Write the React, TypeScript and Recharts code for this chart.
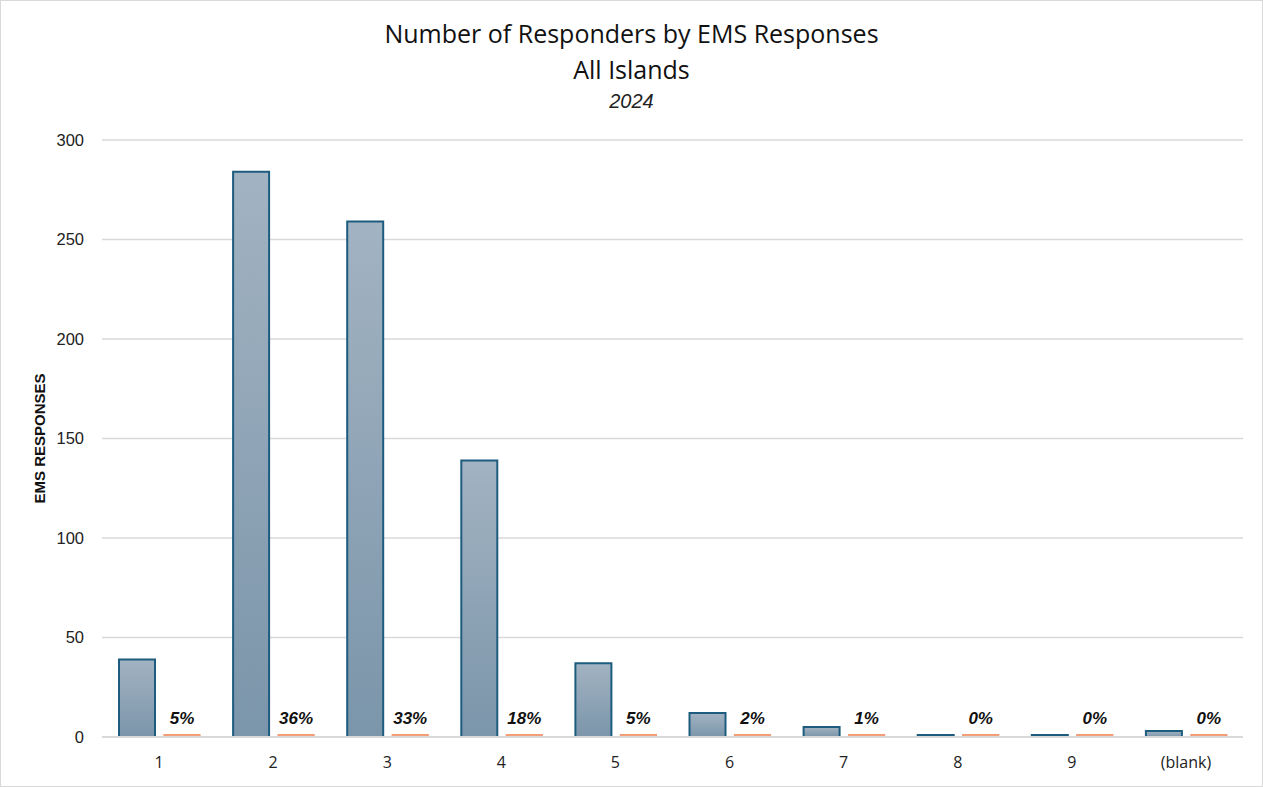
import { BarChart, Bar, XAxis, YAxis, CartesianGrid, LabelList } from 'recharts';

// response counts per responder group
const categories = ['1', '2', '3', '4', '5', '6', '7', '8', '9', '(blank)'];
const responses = [39, 284, 259, 139, 37, 12, 5, 1, 1, 3];
const sharePct = [5, 36, 33, 18, 5, 2, 1, 0, 0, 0];
const yTicks = [0, 50, 100, 150, 200, 250, 300];

const chartData = categories.map((c, i) => ({
  name: c,
  responses: responses[i],
  share: sharePct[i] / 100,
}));

const titleFont = '"Open Sans", "Noto Sans", sans-serif';
const axisFont = '"Liberation Sans", Arial, sans-serif';

export default function App() {
  return (
    <div style={{ position: 'absolute', left: 0, top: 0, width: 1263, height: 787, background: '#fff', fontFamily: axisFont }}>
      <div style={{ position: 'absolute', left: 0, top: 0, width: 1261, height: 785, border: '1px solid #d9d9d9' }} />
      <div style={{ position: 'absolute', left: 0, width: 1263, top: 15, textAlign: 'center', fontFamily: titleFont, fontSize: 25, color: '#111', lineHeight: '36px' }}>
        Number of Responders by EMS Responses
      </div>
      <div style={{ position: 'absolute', left: 0, width: 1263, top: 51, textAlign: 'center', fontFamily: titleFont, fontSize: 25, color: '#111', lineHeight: '36px' }}>
        All Islands
      </div>
      <div style={{ position: 'absolute', left: 0, width: 1263, top: 87, textAlign: 'center', fontFamily: axisFont, fontStyle: 'italic', fontSize: 20, color: '#222', lineHeight: '28px' }}>
        2024
      </div>
      <div style={{ position: 'absolute', left: 0, top: 0 }}>
        <BarChart width={1263} height={787} data={chartData}
          margin={{ top: 140, right: 20, left: 42, bottom: 20 }}
          barCategoryGap={17} barGap={9}>
          <defs>
            <linearGradient id="blueFill" x1="0" y1="0" x2="0" y2="1">
              <stop offset="0%" stopColor="#a2b3c2" />
              <stop offset="100%" stopColor="#7b95aa" />
            </linearGradient>
          </defs>
          <CartesianGrid vertical={false} stroke="#d9d9d9" strokeWidth={1.3} />
          <XAxis dataKey="name" stroke="#d9d9d9" strokeWidth={2} tickLine={false}
            tick={{ fill: '#222', fontSize: 16, fontFamily: titleFont }} tickMargin={14} />
          <YAxis width={60} domain={[0, 300]} ticks={yTicks} axisLine={false} tickLine={false}
            tick={{ fill: '#222', fontSize: 16.5 }} tickMargin={12}
            label={{ value: 'EMS RESPONSES', angle: -90, position: 'insideLeft', offset: -2,
              style: { textAnchor: 'middle', fontWeight: 'bold', fontSize: 15, fill: '#111' } }} />
          <Bar dataKey="responses" fill="url(#blueFill)" stroke="#1d5c7f" strokeWidth={2} isAnimationActive={false} />
          <Bar dataKey="share" fill="#f4a07a" stroke="#f29a72" strokeWidth={1.2} minPointSize={2.5} isAnimationActive={false}>
            <LabelList dataKey="share" position="top" offset={11}
              formatter={(v: any) => `${Math.round(Number(v) * 100)}%`}
              style={{ fontWeight: 'bold', fontStyle: 'italic', fontSize: 17, fill: '#111' }} />
          </Bar>
        </BarChart>
      </div>
    </div>
  );
}
